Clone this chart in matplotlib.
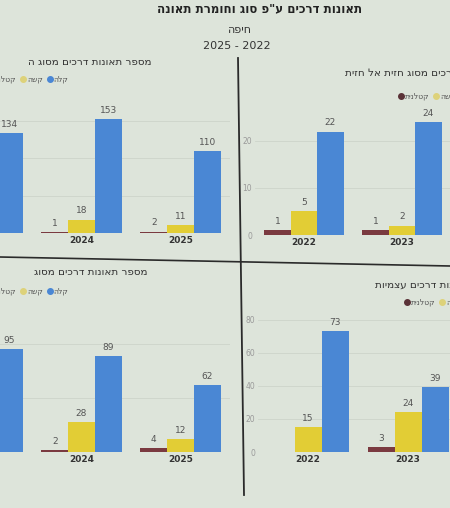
import numpy as np
import matplotlib
matplotlib.use('Agg')
import matplotlib.pyplot as plt
from matplotlib.lines import Line2D

plt.rcParams['font.family'] = ['DejaVu Sans']

nan = np.nan
years = ['2022', '2023', '2024', '2025']
severity = ['קטלנית', 'קשה', 'קלה']

# top-left panel (cut on the left)
tl_fatal = [nan, nan, 1, 2]
tl_severe = [nan, nan, 18, 11]
tl_light = [nan, 134, 153, 110]
# top-right panel: head-on collisions (cut on the right)
tr_fatal = [1, 1, nan, nan]
tr_severe = [5, 2, nan, nan]
tr_light = [22, 24, nan, nan]
# bottom-left panel (cut on the left)
bl_fatal = [nan, nan, 2, 4]
bl_severe = [nan, nan, 28, 12]
bl_light = [nan, 95, 89, 62]
# bottom-right panel: single-vehicle (cut on the right)
br_fatal = [nan, 3, nan, nan]
br_severe = [15, 24, nan, nan]
br_light = [73, 39, nan, nan]

main_title = 'תאונות דרכים ע"פ סוג וחומרת תאונה'
city = 'חיפה'
period = '2025 - 2022'
panel_titles = ['מספר תאונות דרכים מסוג ה',
                'מספר תאונות דרכים מסוג חזית אל חזית',
                'מספר תאונות דרכים מסוג',
                'מספר תאונות דרכים עצמיות']

colors = ['#7a3a40', '#e2cd35', '#4a87d4']
legend_colors = ['#5a3237', '#ddd27a', '#4a87d4']
BG = '#dde4da'

W, H = 450, 508


def vis(s):
    return s[::-1]


fig = plt.figure(figsize=(W / 100, H / 100), dpi=100, facecolor=BG)


def make_axes(left_px, width_px, base_px, top_px):
    return fig.add_axes([left_px / W, 1 - base_px / H, width_px / W, (base_px - top_px) / H])


def draw_panel(ax, series, ymax, yticks, show_ylabels):
    x = np.arange(len(years))
    bw = 0.27
    for i, (vals, c) in enumerate(zip(series, colors)):
        v = np.array(vals, dtype=float)
        bars = ax.bar(x + (i - 1) * bw, v, bw, color=c, zorder=3)
        labels = ['' if np.isnan(val) else f'{int(val)}' for val in v]
        ax.bar_label(bars, labels=labels, padding=3, fontsize=6.5, color='#555555')
    ax.set_xlim(-0.5, 3.5)
    ax.set_ylim(0, ymax)
    ax.set_xticks(x)
    ax.set_xticklabels(years, fontsize=6.5, fontweight='bold', color='#333333')
    ax.set_yticks(yticks)
    if show_ylabels:
        ax.set_yticklabels([str(t) for t in yticks], fontsize=5.5, color='#9a9a9a')
    else:
        ax.set_yticklabels([])
    ax.tick_params(length=0, pad=2)
    for s in ax.spines.values():
        s.set_visible(False)
    ax.set_facecolor('none')
    ax.yaxis.grid(True, color='#cdd4ca', lw=0.6, zorder=0)
    ax.set_axisbelow(True)


ax_tl = make_axes(-166, 396, 233, 106)
draw_panel(ax_tl, [tl_fatal, tl_severe, tl_light], 170, [0, 50, 100, 150], False)
ax_tr = make_axes(255, 392, 235, 108)
draw_panel(ax_tr, [tr_fatal, tr_severe, tr_light], 27, [0, 10, 20], True)
ax_bl = make_axes(-166, 396, 452, 317)
draw_panel(ax_bl, [bl_fatal, bl_severe, bl_light], 125, [0, 50, 100], False)
ax_br = make_axes(258, 400, 452, 313)
draw_panel(ax_br, [br_fatal, br_severe, br_light], 84, [0, 20, 40, 60, 80], True)

# titles
fig.text(260 / W, 1 - 9 / H, vis(main_title), ha='center', va='center',
         fontsize=8.5, fontweight='bold', color='#222222')
fig.text(240 / W, 1 - 30 / H, vis(city), ha='center', va='center', fontsize=8, color='#333333')
fig.text(237 / W, 1 - 46 / H, period, ha='center', va='center', fontsize=8, color='#333333')

fig.text(152 / W, 1 - 62 / H, vis(panel_titles[0]), ha='right', va='center', fontsize=7.5, color='#333333')
fig.text(345 / W, 1 - 73 / H, vis(panel_titles[1]), ha='left', va='center', fontsize=7.5, color='#333333')
fig.text(148 / W, 1 - 272 / H, vis(panel_titles[2]), ha='right', va='center', fontsize=7.5, color='#333333')
fig.text(375 / W, 1 - 285 / H, vis(panel_titles[3]), ha='left', va='center', fontsize=7.5, color='#333333')

handles = [Line2D([], [], marker='o', ls='none', color=c, markersize=4) for c in legend_colors]
labels = [vis(s) for s in severity]


def add_legend(anchor_px, loc):
    fig.legend(handles, labels, loc=loc, bbox_to_anchor=(anchor_px[0] / W, 1 - anchor_px[1] / H),
               ncol=3, frameon=False, fontsize=5.5, handlelength=0.6, handletextpad=0.2,
               columnspacing=0.6, borderpad=0, labelcolor='#555555')


add_legend((72, 79), 'center right')
add_legend((395, 96), 'center left')
add_legend((72, 291), 'center right')
add_legend((401, 302), 'center left')

# divider lines
fig.add_artist(Line2D([238 / W, 244 / W], [1 - 58 / H, 1 - 495 / H], color='#2a2a2a', lw=1.3))
fig.add_artist(Line2D([0, 1], [1 - 257 / H, 1 - 266 / H], color='#2a2a2a', lw=1.2))

fig.savefig('out.png', dpi=100, facecolor=BG)
